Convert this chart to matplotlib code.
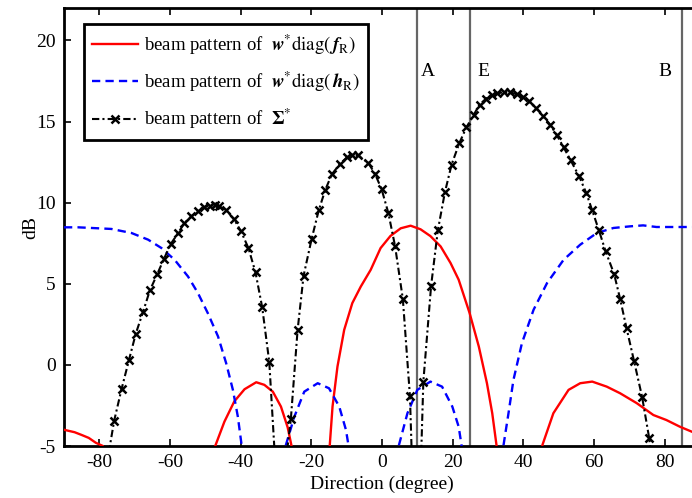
import matplotlib
matplotlib.use("Agg")
import matplotlib.pyplot as plt

plt.rcParams['font.family'] = ['Liberation Serif', 'DejaVu Serif']
plt.rcParams['mathtext.fontset'] = 'stix'

# ---- data ----
red_x = [-90, -87, -85, -83, -81, -79, -77,
         -49, -47.2, -44.6, -41.8, -38.9, -35.6, -33.3, -30.9, -28.6, -26.7, -25.6, -24.5,
         -16, -14.8, -14.0, -12.6, -10.7, -8.4, -6.0, -3.2, -0.4, 2.4, 5.3, 8.1, 10.9, 13.7,
         16.6, 19.4, 21.7, 24.8, 27.4, 29.7, 31.2, 32.4, 33,
         44, 45.4, 48.5, 52.8, 56.1, 59.5, 63.6, 67.4, 72.1, 76.8, 80.5, 84.3, 87.7, 90]
red_y = [-4.0, -4.15, -4.32, -4.5, -4.8, -5.0, -10,
         -8, -5.0, -3.5, -2.25, -1.5, -1.07, -1.23, -1.65, -2.57, -3.85, -5.0, -10,
         -10, -5.0, -2.57, -0.1, 2.16, 3.81, 4.83, 5.86, 7.2, 7.95, 8.42, 8.58, 8.36, 7.94,
         7.3, 6.28, 5.25, 3.19, 1.13, -1.13, -2.98, -4.94, -10,
         -10, -4.94, -2.98, -1.54, -1.13, -1.03, -1.34, -1.75, -2.36, -3.09, -3.40, -3.81, -4.12, -4.3]

blue_x = [-90, -86, -82.2, -76.6, -70.9, -66.2, -62.4, -58.7, -54.9, -52.1, -49.3, -46.4,
          -44.1, -42.2, -40.8, -39.7, -39,
          -28.5, -27.2, -24.8, -22.0, -18.2, -15.0, -12.1, -10.2, -9.5, -8.5,
          3.5, 4.8, 7.2, 10.0, 13.7, 17.0, 19.9, 21.7, 22.5, 23.5,
          33.5, 34.4, 35.8, 37.2, 39.6, 42.9, 46.7, 51.4, 56.1, 60.8, 65.5, 70.2, 73.9,
          77.7, 81.5, 86, 90]
blue_y = [8.48, 8.48, 8.44, 8.38, 8.13, 7.72, 7.2, 6.48, 5.45, 4.43, 3.19, 1.75,
          0.1, -1.54, -3.19, -5.0, -10,
          -10, -4.94, -3.19, -1.65, -1.13, -1.44, -2.57, -4.01, -4.94, -10,
          -10, -4.94, -2.98, -1.54, -1.03, -1.34, -2.57, -3.81, -4.94, -10,
          -10, -4.94, -2.98, -0.93, 1.34, 3.40, 5.04, 6.48, 7.41, 8.13, 8.44, 8.54, 8.60,
          8.50, 8.50, 8.50, 8.50]

sig_x = [-79.8, -77.8, -75.8, -73.7, -71.6, -69.7, -67.6, -65.7, -63.6, -61.7, -59.8, -57.7,
         -55.9, -54.0, -52.1, -50.4, -48.8, -47.4, -46.0, -44.1, -41.9, -39.9, -37.8,
         -35.8, -33.9, -31.9, -29.9, -27.8,
         -25.8, -23.9, -22.2, -19.9, -17.9, -16.1, -14.2, -11.9, -9.8, -8.4, -6.8, -3.9,
         -2.0, -0.1, 1.8, 3.7, 5.9, 7.9, 9.8,
         11.7, 13.9, 15.8, 17.8, 19.7, 21.9, 23.9, 26.0, 27.6, 29.5, 31.1, 32.6, 34.4,
         36.3, 38.2, 39.9, 41.6, 43.5, 45.5, 47.6, 49.5, 51.4, 53.4, 55.8, 57.8, 59.5,
         61.4, 63.3, 65.7, 67.4, 69.2, 71.3, 73.6, 75.6, 77.6, 79.6]
sig_y = [-10, -6.0, -3.44, -1.48, 0.31, 1.91, 3.29, 4.59, 5.60, 6.54, 7.45, 8.13,
         8.75, 9.15, 9.46, 9.71, 9.81, 9.86, 9.77, 9.52, 8.99, 8.23, 7.20,
         5.70, 3.54, 0.17, -7.2, -7.0,
         -3.35, 2.12, 5.49, 7.78, 9.53, 10.76, 11.75, 12.39, 12.82, 12.96, 12.92, 12.45,
         11.79, 10.82, 9.36, 7.32, 4.06, -1.9, -15,
         -1.03, 4.88, 8.29, 10.64, 12.35, 13.68, 14.65, 15.43, 16.05, 16.42, 16.62, 16.73, 16.81,
         16.81, 16.67, 16.52, 16.25, 15.85, 15.37, 14.81, 14.15, 13.41, 12.61, 11.62, 10.60, 9.52,
         8.29, 6.99, 5.60, 4.06, 2.27, 0.27, -1.96, -4.49, -8, -15]

vlines_x = [10, 25, 85]
marks = ['A', 'E', 'B']
marks_x = [12.9, 28.7, 80.0]
marks_y = [18.1, 18.1, 18.1]

xticks = [-80, -60, -40, -20, 0, 20, 40, 60, 80]
yticks = [-5, 0, 5, 10, 15, 20]

labels = [r'beam pattern of  $\boldsymbol{w}^{*}\mathrm{diag}(\,\boldsymbol{f}_{\mathrm{R}})$',
          r'beam pattern of  $\boldsymbol{w}^{*}\mathrm{diag}(\,\boldsymbol{h}_{\mathrm{R}})$',
          r'beam pattern of  $\boldsymbol{\Sigma}^{*}$']

# ---- figure ----
fig = plt.figure(figsize=(6.92, 4.98), dpi=100)
ax = fig.add_axes([64/692, 52/498, 636/692, 438/498])

for xv in vlines_x:
    ax.axvline(xv, color='#666666', lw=1.6, zorder=1)

ax.plot(red_x, red_y, color='red', lw=1.7, label=labels[0], zorder=3)
ax.plot(blue_x, blue_y, color='blue', lw=1.7, ls=(0, (3.5, 2.2)), label=labels[1], zorder=3)
ax.plot(sig_x, sig_y, color='black', lw=1.5, ls=(0, (3.5, 1.5, 1, 1.5)), marker='x',
        ms=6, mew=1.8, label=labels[2], zorder=4)

for t, xv, yv in zip(marks, marks_x, marks_y):
    ax.text(xv, yv, t, fontsize=14, ha='center', va='center')

ax.set_xlim(-90, 90)
ax.set_ylim(-5, 22)
ax.set_xticks(xticks)
ax.set_yticks(yticks)
ax.set_xticklabels([str(v) for v in xticks])
ax.set_yticklabels([str(v) for v in yticks])
ax.tick_params(direction='in', length=5, width=1.2, labelsize=14, top=True, right=True, pad=6)
for s in ax.spines.values():
    s.set_linewidth(2)

ax.set_xlabel('Direction (degree)', fontsize=14, labelpad=3)
ax.set_ylabel('dB', fontsize=14, labelpad=-2)

leg = ax.legend(loc='upper left', bbox_to_anchor=(0.031, 0.964), borderaxespad=0,
                fontsize=13.5, frameon=True, fancybox=False, handlelength=2.45,
                handletextpad=0.3, labelspacing=0.7, borderpad=0.45)
leg.get_frame().set_edgecolor('black')
leg.get_frame().set_linewidth(2)
leg.get_frame().set_alpha(1)

fig.savefig('out.png', dpi=100)
